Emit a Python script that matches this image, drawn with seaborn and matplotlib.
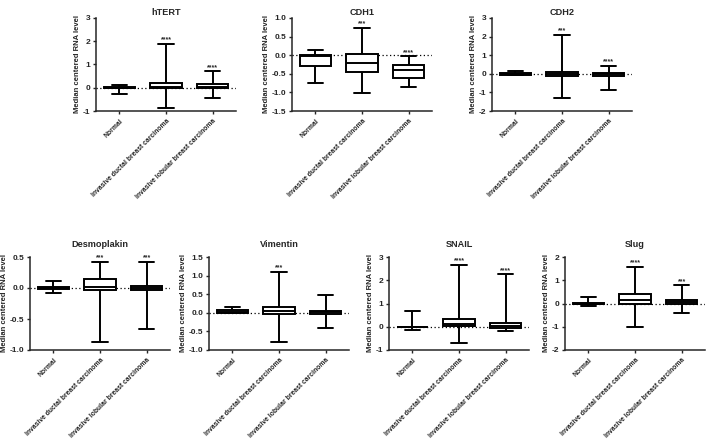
import matplotlib
matplotlib.use("Agg")
import matplotlib.pyplot as plt
import seaborn as sns
import pandas as pd

sns.set_style("ticks")
plt.rcParams['font.family'] = ['Liberation Sans', 'DejaVu Sans']
plt.rcParams['font.weight'] = 'bold'

categories = ["Normal", "Invasive ductal breast carcinoma", "Invasive lobular breast carcinoma"]
ylabel = "Median centered RNA level"

# five-number summaries per group: [min, Q1, median, Q3, max]
htert_normal = [-0.27, -0.02, 0.0, 0.02, 0.13]
htert_idc = [-0.89, 0.0, 0.05, 0.2, 1.9]
htert_ilc = [-0.46, -0.03, 0.05, 0.15, 0.7]
htert_stars = ["", "****", "****"]
htert_ticks = [-1, 0, 1, 2, 3]

cdh1_normal = [-0.75, -0.28, -0.02, 0.0, 0.14]
cdh1_idc = [-1.02, -0.45, -0.21, 0.02, 0.73]
cdh1_ilc = [-0.85, -0.6, -0.4, -0.27, -0.03]
cdh1_stars = ["", "***", "****"]
cdh1_ticks = [-1.5, -1.0, -0.5, 0.0, 0.5, 1.0]

cdh2_normal = [-0.08, -0.05, 0.0, 0.03, 0.16]
cdh2_idc = [-1.28, -0.14, -0.02, 0.09, 2.08]
cdh2_ilc = [-0.85, -0.1, -0.03, 0.02, 0.43]
cdh2_stars = ["", "***", "****"]
cdh2_ticks = [-2, -1, 0, 1, 2, 3]

dsp_normal = [-0.075, -0.01, 0.0, 0.01, 0.11]
dsp_idc = [-0.87, -0.04, 0.02, 0.14, 0.42]
dsp_ilc = [-0.66, -0.04, 0.0, 0.04, 0.42]
dsp_stars = ["", "***", "***"]
dsp_ticks = [-1.0, -0.5, 0.0, 0.5]

vim_normal = [-0.01, 0.0, 0.03, 0.08, 0.155]
vim_idc = [-0.79, -0.02, 0.045, 0.145, 1.1]
vim_ilc = [-0.42, -0.02, 0.01, 0.06, 0.49]
vim_stars = ["", "***", ""]
vim_ticks = [-1.0, -0.5, 0.0, 0.5, 1.0, 1.5]

snail_normal = [-0.12, -0.01, 0.0, 0.01, 0.66]
snail_idc = [-0.72, 0.02, 0.13, 0.35, 2.66]
snail_ilc = [-0.19, -0.06, 0.03, 0.14, 2.26]
snail_stars = ["", "****", "****"]
snail_ticks = [-1, 0, 1, 2, 3]

slug_normal = [-0.12, -0.02, 0.0, 0.02, 0.3]
slug_idc = [-0.99, 0.0, 0.13, 0.43, 1.58]
slug_ilc = [-0.43, -0.02, 0.05, 0.16, 0.78]
slug_stars = ["", "****", "***"]
slug_ticks = [-2, -1, 0, 1, 2]

panels = [
    ("hTERT", [htert_normal, htert_idc, htert_ilc], htert_stars, htert_ticks, "{:.0f}", (96, 18), 2.5),
    ("CDH1", [cdh1_normal, cdh1_idc, cdh1_ilc], cdh1_stars, cdh1_ticks, "{:.1f}", (292, 18), 2.5),
    ("CDH2", [cdh2_normal, cdh2_idc, cdh2_ilc], cdh2_stars, cdh2_ticks, "{:.0f}", (492, 18), 2.5),
    ("Desmoplakin", [dsp_normal, dsp_idc, dsp_ilc], dsp_stars, dsp_ticks, "{:.1f}", (30, 257), 7),
    ("Vimentin", [vim_normal, vim_idc, vim_ilc], vim_stars, vim_ticks, "{:.1f}", (209, 257), 7),
    ("SNAIL", [snail_normal, snail_idc, snail_ilc], snail_stars, snail_ticks, "{:.0f}", (389, 257), 7),
    ("Slug", [slug_normal, slug_idc, slug_ilc], slug_stars, slug_ticks, "{:.0f}", (565, 257), 7),
]

W, H = 708, 440
fig = plt.figure(figsize=(W / 100, H / 100), dpi=100)
AW, AH = 140, 93
LW = 1.4
FS = 5.5
FSX = 4.9

for title, groups, stars, ticks, fmt, (lx, ty), tpad in panels:
    ax = fig.add_axes([lx / W, 1 - (ty + AH) / H, AW / W, AH / H])
    rows = []
    for cat, vals in zip(categories, groups):
        for v in vals:
            rows.append({"group": cat, "value": v})
    df = pd.DataFrame(rows)
    ax.axhline(0, color="black", lw=0.9, ls=(0, (1, 2)), zorder=0)
    sns.boxplot(data=df, x="group", y="value", order=categories, whis=(0, 100),
                showfliers=False, width=0.67, color="white", linecolor="black",
                linewidth=LW, ax=ax,
                medianprops=dict(color="black", lw=LW),
                whiskerprops=dict(color="black", lw=LW),
                capprops=dict(color="black", lw=LW),
                boxprops=dict(edgecolor="black", facecolor="white", lw=LW))
    ax.set_xlim(-0.5, 2.5)
    ax.set_ylim(ticks[0], ticks[-1])
    ax.set_yticks(ticks)
    ax.set_yticklabels([fmt.format(t) for t in ticks])
    ax.set_xticks(range(3))
    ax.set_xticklabels(categories, rotation=45, ha="right", rotation_mode="anchor",
                       fontsize=FSX, fontweight="bold")
    ax.tick_params(axis="y", labelsize=6.0, length=2.5, width=1, pad=1.5)
    ax.tick_params(axis="x", length=2.5, width=1, pad=2)
    for lab in ax.get_yticklabels():
        lab.set_fontweight("bold")
    ax.set_xlabel("")
    ax.set_ylabel(ylabel, fontsize=FS, fontweight="bold", labelpad=1.5)
    ax.set_title(title, fontsize=6.6, fontweight="bold", pad=tpad)
    for s in ["top", "right"]:
        ax.spines[s].set_visible(False)
    for s in ["left", "bottom"]:
        ax.spines[s].set_linewidth(1.1)
    for i, (g, st) in enumerate(zip(groups, stars)):
        if st:
            ax.annotate(st, xy=(i, max(g)), xytext=(0, 0.3), textcoords="offset points",
                        ha="center", va="bottom", fontsize=5, fontweight="bold")

fig.savefig("out.png", dpi=100)
